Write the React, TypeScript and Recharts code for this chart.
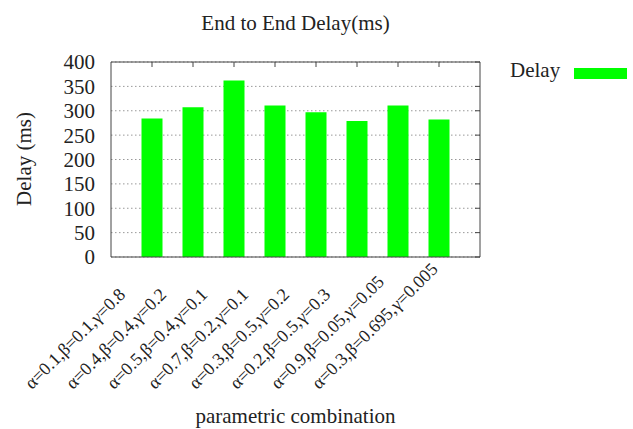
import { Bar, CartesianGrid, ComposedChart, Line, XAxis, YAxis } from "recharts";

const combos = [
  "α=0.1,β=0.1,γ=0.8",
  "α=0.4,β=0.4,γ=0.2",
  "α=0.5,β=0.4,γ=0.1",
  "α=0.7,β=0.2,γ=0.1",
  "α=0.3,β=0.5,γ=0.2",
  "α=0.2,β=0.5,γ=0.3",
  "α=0.9,β=0.05,γ=0.05",
  "α=0.3,β=0.695,γ=0.005",
];
const delay = [284, 307, 362, 311, 297, 279, 311, 282];
const yTicks = [0, 50, 100, 150, 200, 250, 300, 350, 400];

const data = combos.map((name, i) => ({ name, delay: delay[i] }));

const FONT = '"Liberation Serif", "DejaVu Serif", serif';
const AXIS = "#444";
const GREEN = "#00ff00";

function ComboTick(props: any) {
  const { x, y, payload } = props;
  const sx = x - 120;
  const sy = y + 133;
  return (
    <text
      x={sx}
      y={sy}
      transform={`rotate(-45, ${sx}, ${sy})`}
      textAnchor="start"
      fontSize={18}
      fontFamily={FONT}
      fill="#222"
    >
      {payload.value}
    </text>
  );
}

// inward tick marks only, no labels
const NoLabel = () => <g />;

export default function App() {
  return (
    <div style={{ position: "absolute", left: 0, top: 0, width: 633, height: 429, background: "#fff", fontFamily: FONT }}>
      <div style={{ position: "absolute", left: 111, width: 369, top: 11, textAlign: "center", fontSize: 21, color: "#222" }}>
        End to End Delay(ms)
      </div>
      <div
        style={{
          position: "absolute",
          left: 24,
          top: 159,
          transform: "translate(-50%, -50%) rotate(-90deg)",
          fontSize: 21,
          whiteSpace: "nowrap",
          color: "#222",
        }}
      >
        Delay (ms)
      </div>
      <div style={{ position: "absolute", left: 111, width: 369, top: 404, textAlign: "center", fontSize: 21, color: "#222" }}>
        parametric combination
      </div>
      <div
        style={{
          position: "absolute",
          left: 510,
          top: 58,
          display: "flex",
          alignItems: "center",
          fontSize: 21,
          color: "#222",
        }}
      >
        <span>Delay</span>
        <span
          style={{ display: "inline-block", width: 53, height: 11, background: GREEN, marginLeft: 14, position: "relative", top: 3 }}
        />
      </div>
      <ComposedChart width={633} height={429} data={data} margin={{ top: 62, right: 153, bottom: 0, left: 61 }}>
        <CartesianGrid vertical={false} stroke="#999" strokeDasharray="1.5 2.5" />
        <XAxis
          dataKey="name"
          interval={0}
          height={172}
          padding={{ left: 20.5, right: 20.5 }}
          tick={<ComboTick />}
          tickLine={false}
          tickSize={0}
          tickMargin={0}
          axisLine={{ stroke: AXIS }}
        />
        <XAxis
          xAxisId="top"
          dataKey="name"
          orientation="top"
          mirror
          interval={0}
          height={30}
          padding={{ left: 20.5, right: 20.5 }}
          tick={<NoLabel />}
          tickSize={5}
          tickLine={{ stroke: AXIS }}
          axisLine={{ stroke: AXIS }}
        />
        <YAxis
          domain={[0, 400]}
          ticks={yTicks}
          interval={0}
          width={50}
          tickLine={false}
          tickSize={0}
          tickMargin={16}
          axisLine={{ stroke: AXIS }}
          tick={{ fontSize: 21, fill: "#222", fontFamily: FONT }}
        />
        <YAxis
          yAxisId="r"
          orientation="right"
          mirror
          width={60}
          domain={[0, 400]}
          ticks={yTicks}
          interval={0}
          tick={<NoLabel />}
          tickSize={5}
          tickLine={{ stroke: AXIS }}
          axisLine={{ stroke: AXIS }}
        />
        <Bar dataKey="delay" fill={GREEN} barSize={21} isAnimationActive={false} />
        <Line
          xAxisId="top"
          yAxisId="r"
          dataKey="delay"
          stroke="none"
          dot={false}
          activeDot={false}
          legendType="none"
          isAnimationActive={false}
        />
      </ComposedChart>
    </div>
  );
}
